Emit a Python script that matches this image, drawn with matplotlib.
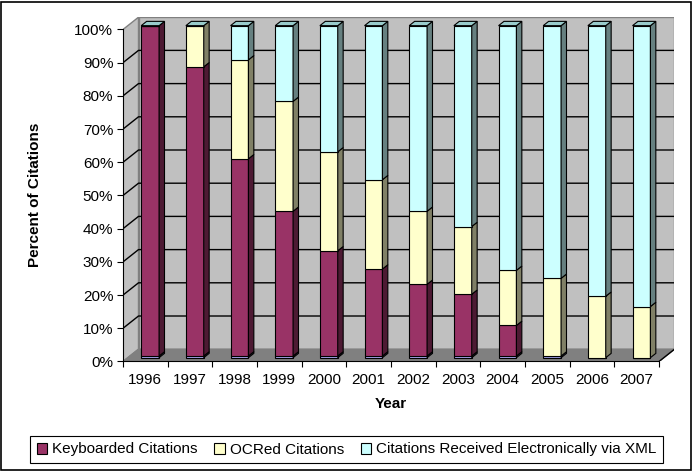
import matplotlib.pyplot as plt
from matplotlib.patches import Polygon, Rectangle, Patch
import numpy as np

plt.rcParams['font.family'] = ['Liberation Sans', 'DejaVu Sans']
plt.rcParams['font.size'] = 11

years = ['1996', '1997', '1998', '1999', '2000', '2001',
         '2002', '2003', '2004', '2005', '2006', '2007']
# thin unlabelled series at the bottom of most bars
other = [0.5, 0.5, 0.5, 0.5, 0.5, 0.5, 0.5, 0.5, 0.5, 0.5, 0.0, 0.0]
keyboarded = [99.5, 87.1, 59.4, 43.6, 31.7, 26.2, 21.6, 18.6, 9.2, 0.0, 0.0, 0.0]
ocred = [0.0, 12.4, 29.8, 33.1, 29.8, 26.9, 22.0, 20.4, 16.6, 23.4, 18.5, 15.4]
xml = [0.0, 0.0, 10.3, 22.8, 38.0, 46.4, 55.9, 60.5, 73.7, 76.1, 81.5, 84.6]
labels = ['Keyboarded Citations', 'OCRed Citations',
          'Citations Received Electronically via XML']

n = len(years)
dx, dy = 0.347, 3.7      # depth of floor, in data units
f0, fb = 0.31, 0.35      # bar front position / bar depth, fraction of floor depth
w = 0.40

fig = plt.figure(figsize=(6.93, 4.71), dpi=100)
ax = fig.add_axes([0.1775, 0.2325, 0.7958, 0.7310])
ax.set_xlim(0, n + dx)
ax.set_ylim(0, 100 + dy)

# walls and floor
ax.add_patch(Polygon([(dx, dy), (n + dx, dy), (n + dx, 100 + dy), (dx, 100 + dy)],
                     fc='#c0c0c0', ec='#808080', lw=1, zorder=0))
ax.add_patch(Polygon([(0, 0), (dx, dy), (dx, 100 + dy), (0, 100)],
                     fc='#c0c0c0', ec='#808080', lw=1, zorder=0))
ax.add_patch(Polygon([(0, 0), (n, 0), (n + dx, dy), (dx, dy)],
                     fc='#808080', ec='#808080', lw=1, zorder=0.5))
for t in range(10, 100, 10):
    ax.plot([0, dx, n + dx], [t, t + dy, t + dy], color='black', lw=1, zorder=1)
ax.plot([n, n + dx], [0, dy], color='black', lw=1, zorder=1)

series = [(other, '#b3b3ff', '#5a5a80'),
          (keyboarded, '#993366', '#4d1a33'),
          (ocred, '#ffffcc', '#808066'),
          (xml, '#ccffff', '#668080')]

xl = np.arange(n) + (1 - w) / 2 + f0 * dx
bottom = np.zeros(n)
bdx, bdy = fb * dx, fb * dy
for vals, fc, sc in series:
    vals = np.array(vals)
    ax.bar(xl, vals, width=w, bottom=bottom + f0 * dy, align='edge',
           color=fc, edgecolor='black', lw=0.8, zorder=3)
    for i in range(n):
        if vals[i] <= 0:
            continue
        xr = xl[i] + w
        y0 = bottom[i] + f0 * dy
        y1 = y0 + vals[i]
        ax.add_patch(Polygon([(xr, y0), (xr + bdx, y0 + bdy), (xr + bdx, y1 + bdy), (xr, y1)],
                             fc=sc, ec='black', lw=0.8, zorder=3))
    bottom += vals

for i in range(n):
    yt = bottom[i] + f0 * dy
    ax.add_patch(Polygon([(xl[i], yt), (xl[i] + w, yt), (xl[i] + w + bdx, yt + bdy),
                          (xl[i] + bdx, yt + bdy)],
                         fc='#99cccc', ec='black', lw=0.8, zorder=3))

# axes
for s in ['top', 'right']:
    ax.spines[s].set_visible(False)
ax.spines['left'].set_bounds(0, 100)
ax.spines['bottom'].set_bounds(0, n)
ax.spines['left'].set_zorder(4)
ax.spines['bottom'].set_zorder(4)
ax.set_yticks(range(0, 101, 10))
ax.set_yticklabels([f'{t}%' for t in range(0, 101, 10)])
ax.set_xticks(range(n + 1))
ax.set_xticklabels([])
ax.set_xticks(np.arange(n) + 0.5, minor=True)
ax.set_xticklabels(years, minor=True)
ax.tick_params(axis='both', which='major', length=4, width=0.8, color='black', pad=3)
ax.tick_params(axis='x', which='minor', length=0, pad=8)

fig.text(391 / 693, 1 - 404 / 471, 'Year', ha='center', va='center', fontweight='bold')
fig.text(35 / 693, 1 - 195 / 471, 'Percent of Citations', ha='center', va='center',
         rotation=90, fontweight='bold')

handles = [Patch(fc=c, ec='black', lw=0.8) for _, c, _ in series[1:]]
leg = fig.legend(handles, labels, loc='center', bbox_to_anchor=(346.5 / 693, 1 - 449.5 / 471),
                 ncol=3, fancybox=False, edgecolor='black', framealpha=1,
                 handlelength=0.7, handleheight=0.7, handletextpad=0.3,
                 columnspacing=1.1, borderpad=0.45, borderaxespad=0)
leg.get_frame().set_linewidth(0.8)

fig.patches.append(Rectangle((0.002, 0.003), 0.995, 0.993, transform=fig.transFigure,
                             fill=False, ec='black', lw=1.2))

fig.savefig('out.png', dpi=100)
